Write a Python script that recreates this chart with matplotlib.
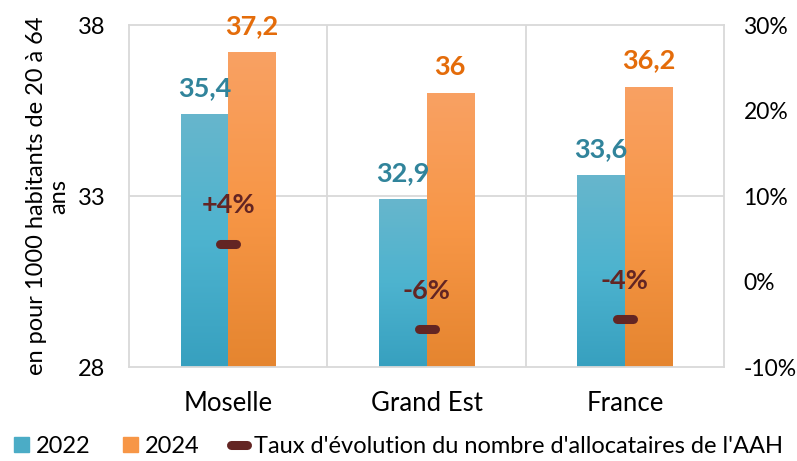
import numpy as np
import matplotlib.pyplot as plt
from matplotlib.markers import MarkerStyle
from matplotlib.lines import Line2D
from matplotlib.patches import Patch
from matplotlib.colors import LinearSegmentedColormap

plt.rcParams['font.family'] = ['Lato', 'DejaVu Sans']

territoires = ["Moselle", "Grand Est", "France"]
taux_2022 = [35.4, 32.9, 33.6]
taux_2024 = [37.2, 36.0, 36.2]
evolution = [4.4, -5.6, -4.4]
evolution_labels = ["+4%", "-6%", "-4%"]

blue_grad = LinearSegmentedColormap.from_list("b", ["#37A0BF", "#4DB3CF", "#67B6CC"])
orange_grad = LinearSegmentedColormap.from_list("o", ["#E5852F", "#F79646", "#F9A163"])


def fmt(v):
    s = ("%.1f" % v).replace(".", ",")
    return s[:-2] if s.endswith(",0") else s


def gradient_bars(ax, bars, cmap):
    grad = np.linspace(0, 1, 256).reshape(-1, 1)
    for b in bars:
        x0, w, h = b.get_x(), b.get_width(), b.get_height()
        y0 = b.get_y()
        im = ax.imshow(grad, extent=(x0, x0 + w, y0, y0 + h), origin="lower",
                       aspect="auto", cmap=cmap, zorder=2)
        im.set_clip_path(b)
        b.set_facecolor("none")


fig = plt.figure(figsize=(7.97, 4.61), dpi=100)
ax = fig.add_axes([129 / 797, 94 / 461, 595 / 797, 342 / 461])

x = np.arange(len(territoires)) + 0.5
w = 0.24
grid_c = "#D9D9D9"
fs = 17

b1 = ax.bar(x - w / 2, np.array(taux_2022) - 28, w, bottom=28, zorder=2, linewidth=0)
b2 = ax.bar(x + w / 2, np.array(taux_2024) - 28, w, bottom=28, zorder=2, linewidth=0)
gradient_bars(ax, b1, blue_grad)
gradient_bars(ax, b2, orange_grad)

for xi, v in zip(x - w / 2, taux_2022):
    ax.annotate(fmt(v), (xi, v), xytext=(0, 13), textcoords="offset points",
                ha="center", va="baseline", fontsize=19.5, fontweight="bold", color="#31849B")
for xi, v in zip(x + w / 2, taux_2024):
    ax.annotate(fmt(v), (xi, v), xytext=(0, 13), textcoords="offset points",
                ha="center", va="baseline", fontsize=19.5, fontweight="bold", color="#E46C0A")

ax.set_xlim(0, 3)
ax.set_ylim(28, 38)
ax.set_yticks([28, 33, 38])
ax.set_xticks(x)
ax.set_xticklabels(territoires, fontsize=18.5)
ax.tick_params(axis="both", length=0)
ax.tick_params(axis="y", pad=17, labelsize=fs)
ax.tick_params(axis="x", pad=17)
ax.axhline(33, color=grid_c, lw=1.3, zorder=1)
for xv in [1, 2]:
    ax.axvline(xv, color=grid_c, lw=1.3, zorder=1)
for s in ax.spines.values():
    s.set_color(grid_c)
    s.set_linewidth(1.3)
ax.set_ylabel("en pour 1000 habitants de 20 à 64\nans", fontsize=17, labelpad=6,
              linespacing=1.05)

ax2 = ax.twinx()
ax2.set_ylim(-10, 30)
ax2.set_yticks([-10, 0, 10, 20, 30])
ax2.set_yticklabels(["%d%%" % t for t in [-10, 0, 10, 20, 30]])
ax2.tick_params(axis="y", length=0, labelsize=16.5, pad=14)
for s in ax2.spines.values():
    s.set_visible(False)

dash = MarkerStyle("_", capstyle="round")
ax2.plot(x, evolution, linestyle="none", marker=dash, ms=11, mew=6.5, color="#632523", zorder=5)
for xi, v, lab in zip(x, evolution, evolution_labels):
    ax2.annotate(lab, (xi, v), xytext=(0, 22), textcoords="offset points",
                 ha="center", va="baseline", fontsize=19.5, fontweight="bold", color="#632523")

handles = [Patch(color="#4BACC6"), Patch(color="#F79646"),
           Line2D([], [], linestyle="none", marker=dash, ms=11, mew=6.5, color="#632523")]
fig.legend(handles, ["2022", "2024", "Taux d'évolution du nombre d'allocataires de l'AAH"],
           loc="center", bbox_to_anchor=(0.5, 1 - 446 / 461), ncol=3, frameon=False,
           fontsize=fs, handlelength=0.6, handleheight=0.6, handletextpad=0.3,
           columnspacing=1.4, borderaxespad=0, borderpad=0)

fig.savefig("out.png", dpi=100)
